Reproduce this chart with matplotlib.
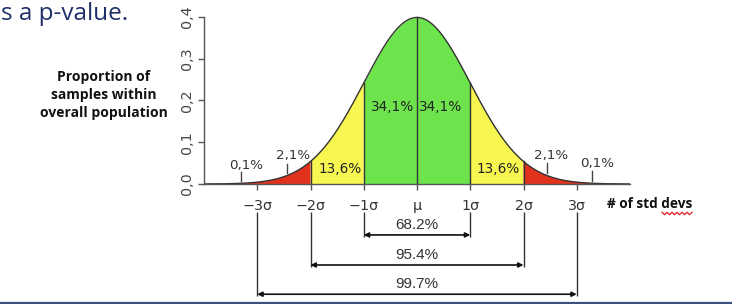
import matplotlib.pyplot as plt
import numpy as np
from matplotlib.lines import Line2D

# sigma positions and labels
sigmas = [-3, -2, -1, 0, 1, 2, 3]
sigma_labels = ["\u22123\u03c3", "\u22122\u03c3", "\u22121\u03c3", "\u03bc", "1\u03c3", "2\u03c3", "3\u03c3"]
y_ticks = [0.0, 0.1, 0.2, 0.3, 0.4]
y_tick_labels = ["0,0", "0,1", "0,2", "0,3", "0,4"]

# band areas (label, x, y)
band_labels = ["34,1%", "34,1%", "13,6%", "13,6%"]
band_x = [-0.45, 0.45, -1.45, 1.53]
band_y = [0.185, 0.185, 0.035, 0.036]

# tail labels with leader ticks (label, text x, text y, tick x)
tail_labels = ["0,1%", "2,1%", "2,1%", "0,1%"]
tail_x = [-3.2, -2.33, 2.52, 3.38]
tail_y = [0.045, 0.069, 0.069, 0.05]
tail_tick_x = [-3.3, -2.45, 2.44, 3.28]
tail_tick_lo = [0.008, 0.026, 0.027, 0.006]
tail_tick_hi = [0.029, 0.048, 0.050, 0.030]

# coverage brackets
coverage = ["68.2%", "95.4%", "99.7%"]
coverage_k = [1, 2, 3]
coverage_y = [-0.122, -0.194, -0.264]

colors = {"tail": "#e2311d", "mid": "#f8f650", "core": "#6de34c"}

x = np.linspace(-4, 4, 801)
pdf = np.exp(-x ** 2 / 2) / np.sqrt(2 * np.pi)

fig = plt.figure(figsize=(7.32, 3.04), dpi=100)
ax = fig.add_axes([204 / 732, 0, 426 / 732, 1])
ax.set_xlim(-4, 4)
ax.set_ylim(-0.2874, 0.4407)

# coloured bands
ax.fill_between(x, pdf, where=np.abs(x) <= 1, color=colors["core"], lw=0)
ax.fill_between(x, pdf, where=(np.abs(x) >= 1) & (np.abs(x) <= 2), color=colors["mid"], lw=0)
ax.fill_between(x, pdf, where=np.abs(x) >= 2, color=colors["tail"], lw=0)
ax.plot(x, pdf, color="#333333", lw=1.0)
pdf_at = lambda v: np.exp(-v ** 2 / 2) / np.sqrt(2 * np.pi)
for s in [-2, -1, 0, 1, 2]:
    ax.plot([s, s], [0, pdf_at(s)], color="#333333", lw=1.0)

for lab, bx, by in zip(band_labels, band_x, band_y):
    ax.text(bx, by, lab, ha="center", va="center", fontsize=9.8, color="#222222")
for lab, tx, ty, kx, lo, hi in zip(tail_labels, tail_x, tail_y, tail_tick_x, tail_tick_lo, tail_tick_hi):
    ax.text(tx, ty, lab, ha="center", va="center", fontsize=9.6, color="#333333")
    ax.plot([kx, kx], [lo, hi], color="#444444", lw=1.0)

# axes styling
for side in ["top", "right"]:
    ax.spines[side].set_visible(False)
ax.spines["bottom"].set_position(("data", 0))
ax.spines["bottom"].set_bounds(-4, 4)
ax.spines["left"].set_bounds(0, 0.4)
for side in ["bottom", "left"]:
    ax.spines[side].set_color("#555555")
    ax.spines[side].set_linewidth(1.0)
ax.set_xticks(sigmas)
ax.set_xticklabels(sigma_labels, fontsize=10.3, color="#333333")
ax.set_yticks(y_ticks)
ax.set_yticklabels(y_tick_labels, fontsize=10.3, color="#444444", rotation=90, va="center")
ax.tick_params(axis="x", length=4.5, width=1, color="#555555", pad=6)
ax.tick_params(axis="y", length=4.5, width=1, color="#555555", pad=3)

# coverage brackets
for lab, k, cy in zip(coverage, coverage_k, coverage_y):
    ax.vlines([-k, k], cy - 0.005, -0.066, color="#333333", lw=1.0)
    ax.annotate("", xy=(k, cy), xytext=(-k, cy),
                arrowprops=dict(arrowstyle="<|-|>", color="#111111", lw=1.2,
                                mutation_scale=7, shrinkA=0, shrinkB=0))
    ax.text(0, cy + 0.024, lab, ha="center", va="center", fontsize=11,
            family="Liberation Sans", color="#333333")

# surrounding slide text
fig.text(104 / 732, 1 - 95 / 304, "Proportion of\nsamples within\noverall population",
         ha="center", va="center", fontsize=10, fontweight="bold", family="Open Sans",
         linespacing=1.4, color="#111111")
fig.text(0.002, 1 - 14 / 304, "s a p-value.", ha="left", va="center", fontsize=17.5,
         family="Open Sans", color="#1f2f6a")
fig.text(607 / 732, 1 - 204 / 304, "# of std devs", ha="left", va="center", fontsize=9.8,
         fontweight="bold", family="Open Sans", color="#111111")

# spell-check squiggle under "devs"
sq_x = np.arange(662, 694, 2.5)
sq_y = 213.5 + np.where(np.arange(len(sq_x)) % 2 == 0, -1.2, 1.2)
fig.add_artist(Line2D(sq_x / 732, 1 - sq_y / 304, color="#e02020", lw=0.9))

# slide border line
fig.add_artist(Line2D([0, 1], [1 - 302.8 / 304] * 2, color="#3b5080", lw=1.6))

fig.savefig("out.png", dpi=100)
